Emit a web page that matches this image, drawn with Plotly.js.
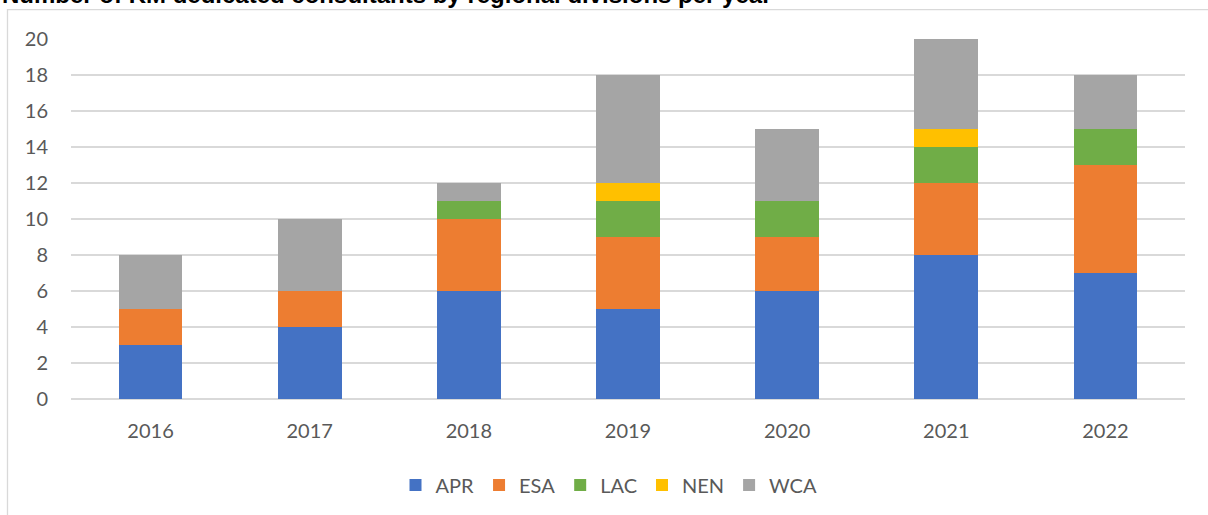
<!DOCTYPE html>
<html>
<head>
<meta charset="utf-8">
<script src="https://cdn.plot.ly/plotly-3.0.1.min.js"></script>
<style>
  html, body { margin: 0; padding: 0; background: #ffffff; }
  #chart { width: 1208px; height: 515px; }
</style>
</head>
<body>
<div id="chart"></div>
<script>
// Years on the category axis
const years = ['2016', '2017', '2018', '2019', '2020', '2021', '2022'];

// Consultants per regional division, stacked per year
const apr = [3, 4, 6, 5, 6, 8, 7];
const esa = [2, 2, 4, 4, 3, 4, 6];
const lac = [0, 0, 1, 2, 2, 2, 2];
const nen = [0, 0, 0, 1, 0, 1, 0];
const wca = [3, 4, 1, 6, 4, 5, 3];

const seriesNames = ['APR', 'ESA', 'LAC', 'NEN', 'WCA'];
const seriesValues = [apr, esa, lac, nen, wca];
const seriesColors = ['#4472C4', '#ED7D31', '#70AD47', '#FFC000', '#A5A5A5'];

const yTicks = [0, 2, 4, 6, 8, 10, 12, 14, 16, 18, 20];

const textFont = 'Lato, "Open Sans", sans-serif';

const traces = seriesNames.map((name, i) => ({
  type: 'bar',
  name: name,
  x: years,
  y: seriesValues[i],
  marker: { color: seriesColors[i], line: { width: 0 } },
  hoverinfo: 'x+y+name'
}));

// Plot area in pixels, used to place the frame and the heading
const W = 1208, H = 515;
const m = { l: 71, r: 23, t: 39, b: 115 };
const pw = W - m.l - m.r, ph = H - m.t - m.b;
const px = p => (p - m.l) / pw;
const py = p => 1 - (p - m.t) / ph;

const layout = {
  width: W,
  height: H,
  margin: m,
  paper_bgcolor: '#ffffff',
  plot_bgcolor: '#ffffff',
  barmode: 'stack',
  bargap: 0.6,
  showlegend: true,
  font: { family: textFont, color: '#595959', size: 20 },
  xaxis: {
    type: 'category',
    tickfont: { family: textFont, size: 20, color: '#595959' },
    ticks: '',
    showgrid: false,
    showline: false,
    zeroline: false,
    ticklabelstandoff: 18
  },
  yaxis: {
    range: [0, 20],
    tickvals: yTicks,
    ticktext: yTicks.map(String),
    tickfont: { family: textFont, size: 20, color: '#595959' },
    ticks: '',
    showgrid: true,
    gridcolor: '#d9d9d9',
    gridwidth: 1.3,
    zeroline: true,
    zerolinecolor: '#d9d9d9',
    zerolinewidth: 1.3,
    showline: false,
    ticklabelstandoff: 22
  },
  legend: {
    orientation: 'h',
    x: px(609),
    xanchor: 'center',
    y: py(485),
    yanchor: 'middle',
    font: { family: textFont, size: 20, color: '#595959' },
    itemwidth: 30,
    traceorder: 'normal'
  },
  shapes: [{
    type: 'rect',
    xref: 'paper', yref: 'paper',
    x0: px(7.5), x1: px(1230),
    y0: py(540), y1: py(9.5),
    line: { color: '#d9d9d9', width: 1.3 },
    fillcolor: 'rgba(0,0,0,0)',
    layer: 'below'
  }],
  annotations: [{
    text: 'Number of KM dedicated consultants by regional divisions per year',
    xref: 'paper', yref: 'paper',
    x: px(0), y: py(10),
    xanchor: 'left', yanchor: 'bottom',
    showarrow: false,
    font: { family: '"Liberation Sans", Arial, sans-serif', size: 24, color: '#000000', weight: 'bold' }
  }]
};

Plotly.newPlot('chart', traces, layout, { displayModeBar: false, staticPlot: true });
</script>
</body>
</html>
